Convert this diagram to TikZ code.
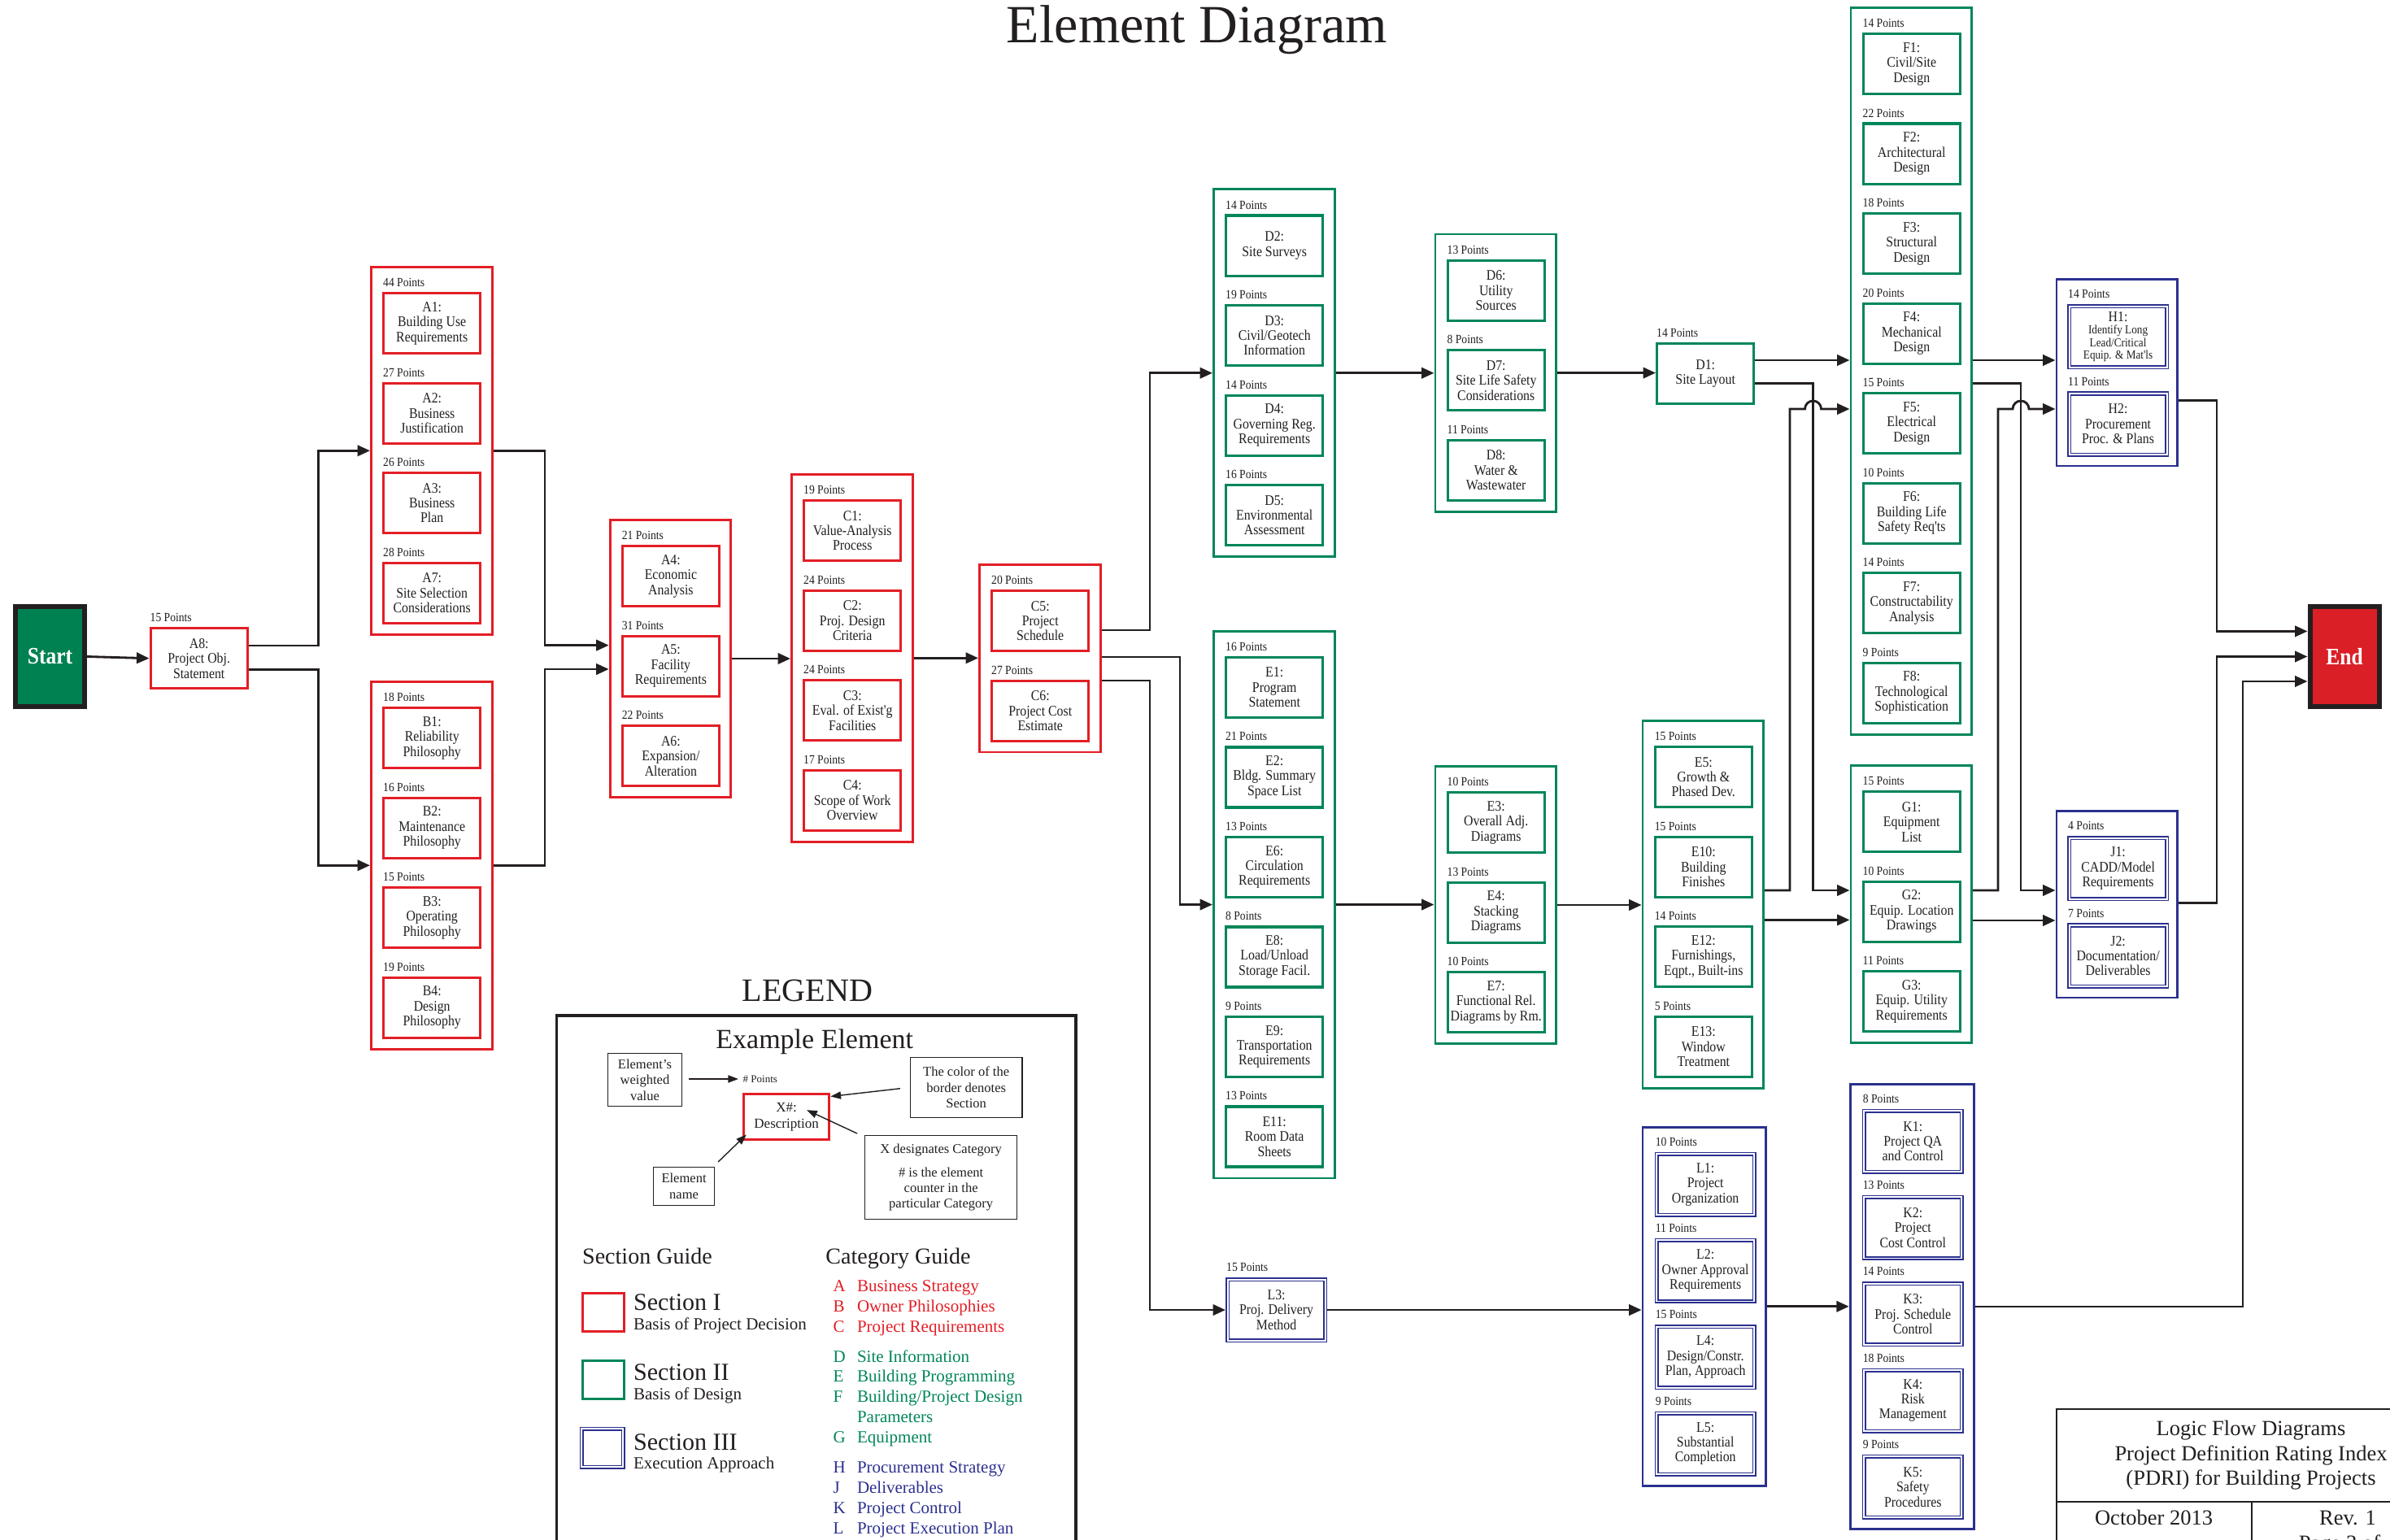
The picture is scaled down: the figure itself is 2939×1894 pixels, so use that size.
\documentclass[tikz,border=0pt]{standalone}
\usepackage{fontspec}
\setmainfont{Liberation Serif}
\newfontfamily\condfont{Liberation Serif}[FakeStretch=0.88]
\usetikzlibrary{arrows.meta}

\definecolor{secred}{RGB}{227,30,38}
\definecolor{secgreen}{RGB}{0,134,88}
\definecolor{secblue}{RGB}{43,48,142}
\definecolor{ink}{RGB}{35,31,32}
\definecolor{startfill}{RGB}{0,129,81}
\definecolor{endfill}{RGB}{219,31,38}

% font sizes (drawing unit: 0.01cm)
\newcommand\fnBox{\condfont\fontsize{5.12}{5.24}\selectfont}
\newcommand\fnSm{\condfont\fontsize{4.27}{4.35}\selectfont}
\newcommand\fnPts{\condfont\fontsize{4.4}{5}\selectfont}
\newcommand\fnSE{\condfont\bfseries\fontsize{8.25}{9}\selectfont}
\newcommand\fnTitle{\fontsize{18.8}{22}\selectfont}
\newcommand\fnNote{\fontsize{4.7}{5.5}\selectfont}
\newcommand\fnHash{\fontsize{3.7}{4.2}\selectfont}
\newcommand\fnEx{\fontsize{4.84}{5.86}\selectfont}
\newcommand\fnLegend{\fontsize{11.4}{13}\selectfont}
\newcommand\fnExample{\fontsize{9.67}{11}\selectfont}
\newcommand\fnGuide{\fontsize{7.97}{9}\selectfont}
\newcommand\fnSecBig{\fontsize{8.54}{9.5}\selectfont}
\newcommand\fnSecSub{\fontsize{5.97}{7}\selectfont}
\newcommand\fnCat{\fontsize{5.97}{7.1}\selectfont}
\newcommand\fnTB{\fontsize{7.54}{8.8}\selectfont}

% group frame: name, left, top, height, colour, width
\newcommand\grp[6]{\node[grp,draw=#5,minimum width=#6,minimum height=#4] (#1) at (#2,#3) {};}
% Section I/II element: name, left, top, points, colour, text
\newcommand\elI[6]{%
  \node[elem,draw=#5] (#1) at (#2,#3) {#6};
  \node[pts] (#1p) at ({#2+0.5},{#3-11.5}) {#4 Points};}
% Section III element: name, left, top, points, text
\newcommand\elIII[5]{%
  \node[elemd] (#1) at (#2,#3) {#5};
  \node[pts] (#1p) at ({#2+0.5},{#3-12.5}) {#4 Points};}
% category guide row: name, baseline, colour, letter, text
\newcommand\catrow[5]{%
  \node[txt,font=\fnCat,text=#3] (#1l) at (1024,#2) {#4};
  \node[txt,font=\fnCat,text=#3] (#1t) at (1053.3,#2) {#5};}

\begin{document}
\begin{tikzpicture}[x=0.01cm,y=-0.01cm,
  grp/.style={line width=0.8pt,anchor=north west,inner sep=0pt},
  elem/.style={line width=0.95pt,anchor=north west,minimum width=1.19cm,minimum height=0.74cm,
    inner sep=0pt,align=center,font=\fnBox,text=ink},
  elemd/.style={draw=secblue,double=white,line width=0.45pt,double distance=0.55pt,
    anchor=north west,minimum width=1.2cm,minimum height=0.75cm,inner sep=0pt,
    align=center,font=\fnBox,text=ink,outer sep=0.72pt},
  pts/.style={anchor=west,inner sep=0pt,font=\fnPts,text=ink},
  conn/.style={draw=ink,line width=0.8pt,-{Triangle[length=4.4pt,width=3.8pt]}},
  note/.style={draw=ink,line width=0.4pt,anchor=north west,inner sep=0pt,align=center,
    font=\fnNote,text=ink},
  lgarrow/.style={draw=ink,line width=0.4pt,-{Triangle[length=3.6pt,width=2.6pt]}},
  txt/.style={anchor=base west,inner sep=0pt,text=ink},
  sebox/.style={draw=ink,line width=1.7pt,minimum width=0.85cm,minimum height=1.23cm,
    inner sep=0pt,text=white,font=\fnSE},
  tbcell/.style={draw=ink,line width=0.6pt,anchor=north west,inner sep=0pt}]

\fill[white] (0,0) rectangle (2939,1894);
\useasboundingbox (0,0) rectangle (2939,1894);

\node[anchor=base,inner sep=0pt,font=\fnTitle,text=ink] (title) at (1472,53) {Element Diagram};

% start / end
\node[sebox,fill=startfill] (startbox) at (61.5,807.5) {Start};
\node[sebox,fill=endfill] (endbox) at (2883,807.5) {End};

% ---------- Section I ----------
\elI{A8}{183.5}{771}{15}{secred}{A8:\\Project Obj.\\Statement}

\grp{gA}{455}{327}{4.515cm}{secred}{1.486cm}
\elI{A1}{470}{359}{44}{secred}{A1:\\Building Use\\Requirements}
\elI{A2}{470}{469.5}{27}{secred}{A2:\\Business\\Justification}
\elI{A3}{470}{580}{26}{secred}{A3:\\Business\\Plan}
\elI{A7}{470}{690.5}{28}{secred}{A7:\\Site Selection\\Considerations}

\grp{gB}{455}{837}{4.515cm}{secred}{1.486cm}
\elI{B1}{470}{869}{18}{secred}{B1:\\Reliability\\Philosophy}
\elI{B2}{470}{979.5}{16}{secred}{B2:\\Maintenance\\Philosophy}
\elI{B3}{470}{1090}{15}{secred}{B3:\\Operating\\Philosophy}
\elI{B4}{470}{1200.5}{19}{secred}{B4:\\Design\\Philosophy}

\grp{gA4}{748.7}{638}{3.41cm}{secred}{1.486cm}
\elI{A4}{763.7}{670}{21}{secred}{A4:\\Economic\\Analysis}
\elI{A5}{763.7}{780.5}{31}{secred}{A5:\\Facility\\Requirements}
\elI{A6}{763.7}{891}{22}{secred}{A6:\\Expansion/\\Alteration}

\grp{gC}{972}{582}{4.515cm}{secred}{1.486cm}
\elI{C1}{987}{614}{19}{secred}{C1:\\Value-Analysis\\Process}
\elI{C2}{987}{724.5}{24}{secred}{C2:\\Proj. Design\\Criteria}
\elI{C3}{987}{835}{24}{secred}{C3:\\Eval. of Exist'g\\Facilities}
\elI{C4}{987}{945.5}{17}{secred}{C4:\\Scope of Work\\Overview}

\grp{gC5}{1203}{693}{2.305cm}{secred}{1.486cm}
\elI{C5}{1218}{725}{20}{secred}{C5:\\Project\\Schedule}
\elI{C6}{1218}{835.5}{27}{secred}{C6:\\Project Cost\\Estimate}

% ---------- Section II ----------
\grp{gD}{1491}{231.5}{4.515cm}{secgreen}{1.486cm}
\elI{D2}{1506}{263.5}{14}{secgreen}{D2:\\Site Surveys}
\elI{D3}{1506}{374}{19}{secgreen}{D3:\\Civil/Geotech\\Information}
\elI{D4}{1506}{484.5}{14}{secgreen}{D4:\\Governing Reg.\\Requirements}
\elI{D5}{1506}{595}{16}{secgreen}{D5:\\Environmental\\Assessment}

\grp{gD6}{1763.5}{286.6}{3.41cm}{secgreen}{1.486cm}
\elI{D6}{1778.5}{318.6}{13}{secgreen}{D6:\\Utility\\Sources}
\elI{D7}{1778.5}{429.1}{8}{secgreen}{D7:\\Site Life Safety\\Considerations}
\elI{D8}{1778.5}{539.6}{11}{secgreen}{D8:\\Water \&\\Wastewater}

\elI{D1}{2036}{420.6}{14}{secgreen}{D1:\\Site Layout}

\grp{gF}{2274.5}{8}{8.935cm}{secgreen}{1.486cm}
\elI{F1}{2289.5}{40}{14}{secgreen}{F1:\\Civil/Site\\Design}
\elI{F2}{2289.5}{150.5}{22}{secgreen}{F2:\\Architectural\\Design}
\elI{F3}{2289.5}{261}{18}{secgreen}{F3:\\Structural\\Design}
\elI{F4}{2289.5}{371.5}{20}{secgreen}{F4:\\Mechanical\\Design}
\elI{F5}{2289.5}{482}{15}{secgreen}{F5:\\Electrical\\Design}
\elI{F6}{2289.5}{592.5}{10}{secgreen}{F6:\\Building Life\\Safety Req'ts}
\elI{F7}{2289.5}{703}{14}{secgreen}{F7:\\Constructability\\Analysis}
\elI{F8}{2289.5}{813.5}{9}{secgreen}{F8:\\Technological\\Sophistication}

\grp{gE}{1491}{774.7}{6.725cm}{secgreen}{1.486cm}
\elI{E1}{1506}{806.7}{16}{secgreen}{E1:\\Program\\Statement}
\elI{E2}{1506}{917.2}{21}{secgreen}{E2:\\Bldg. Summary\\Space List}
\elI{E6}{1506}{1027.7}{13}{secgreen}{E6:\\Circulation\\Requirements}
\elI{E8}{1506}{1138.2}{8}{secgreen}{E8:\\Load/Unload\\Storage Facil.}
\elI{E9}{1506}{1248.7}{9}{secgreen}{E9:\\Transportation\\Requirements}
\elI{E11}{1506}{1359.2}{13}{secgreen}{E11:\\Room Data\\Sheets}

\grp{gE3}{1763.5}{941}{3.41cm}{secgreen}{1.486cm}
\elI{E3}{1778.5}{973}{10}{secgreen}{E3:\\Overall Adj.\\Diagrams}
\elI{E4}{1778.5}{1083.5}{13}{secgreen}{E4:\\Stacking\\Diagrams}
\elI{E7}{1778.5}{1194}{10}{secgreen}{E7:\\Functional Rel.\\Diagrams by Rm.}

\grp{gE5}{2018.6}{885}{4.515cm}{secgreen}{1.486cm}
\elI{E5}{2033.6}{917}{15}{secgreen}{E5:\\Growth \&\\Phased Dev.}
\elI{E10}{2033.6}{1027.5}{15}{secgreen}{E10:\\Building\\Finishes}
\elI{E12}{2033.6}{1138}{14}{secgreen}{E12:\\Furnishings,\\Eqpt., Built-ins}
\elI{E13}{2033.6}{1248.5}{5}{secgreen}{E13:\\Window\\Treatment}

\grp{gG}{2274.5}{940}{3.41cm}{secgreen}{1.486cm}
\elI{G1}{2289.5}{972}{15}{secgreen}{G1:\\Equipment\\List}
\elI{G2}{2289.5}{1082.5}{10}{secgreen}{G2:\\Equip. Location\\Drawings}
\elI{G3}{2289.5}{1193}{11}{secgreen}{G3:\\Equip. Utility\\Requirements}

% ---------- Section III ----------
\grp{gH}{2527.5}{342.4}{2.29cm}{secblue}{1.485cm}
\node[elemd,font=\fnSm] (H1) at (2542,374) {{\fnBox H1:}\\Identify Long\\Lead/Critical\\Equip. \& Mat'ls};
\node[pts] (H1p) at (2542.5,361.5) {14 Points};
\elIII{H2}{2542}{481.5}{11}{H2:\\Procurement\\Proc. \& Plans}

\grp{gJ}{2527.5}{996.4}{2.29cm}{secblue}{1.485cm}
\elIII{J1}{2542}{1028}{4}{J1:\\CADD/Model\\Requirements}
\elIII{J2}{2542}{1135.5}{7}{J2:\\Documentation/\\Deliverables}

\elIII{L3}{1507}{1571}{15}{L3:\\Proj. Delivery\\Method}

\grp{gL}{2018.6}{1385}{4.405cm}{secblue}{1.51cm}
\elIII{L1}{2034.6}{1416.6}{10}{L1:\\Project\\Organization}
\elIII{L2}{2034.6}{1522.9}{11}{L2:\\Owner Approval\\Requirements}
\elIII{L4}{2034.6}{1629.2}{15}{L4:\\Design/Constr.\\Plan, Approach}
\elIII{L5}{2034.6}{1735.5}{9}{L5:\\Substantial\\Completion}

\grp{gK}{2273.7}{1332}{5.468cm}{secblue}{1.52cm}
\elIII{K1}{2289.7}{1363.6}{8}{K1:\\Project QA\\and Control}
\elIII{K2}{2289.7}{1469.9}{13}{K2:\\Project\\Cost Control}
\elIII{K3}{2289.7}{1576.2}{14}{K3:\\Proj. Schedule\\Control}
\elIII{K4}{2289.7}{1682.5}{18}{K4:\\Risk\\Management}
\elIII{K5}{2289.7}{1788.8}{9}{K5:\\Safety\\Procedures}

% ---------- connectors ----------
\draw[conn] (startbox.east) -- (A8.west);
\draw[conn] (A8.east |- 0,794) -- (391.5,794) |- (gA.west);
\draw[conn] (A8.east |- 0,823.6) -- (391.5,823.6) |- (gB.west);
\draw[conn] (gA.east) -| (670,793.6) -- (gA4.west |- 0,793.6);
\draw[conn] (gB.east) -| (670,823) -- (gA4.west |- 0,823);
\draw[conn] (gA4.east) -- (gA4.east -| gC.west);
\draw[conn] (gC.east) -- (gC.east -| gC5.west);
\draw[conn] (gC5.east |- 0,775) -- (1414,775) |- (gD.west);
\draw[conn] (gC5.east |- 0,808) -- (1451,808) |- (gE.west);
\draw[conn] (gC5.east |- 0,837) -- (1414,837) |- (L3.west);
\draw[conn] (gD.east) -- (gD.east -| gD6.west);
\draw[conn] (gD6.east) -- (gD6.east -| D1.west);
\draw[conn] (D1.east |- 0,443) -- (gF.west |- 0,443);
\draw[conn] (D1.east |- 0,471.7) -- (2229.5,471.7) |- (gG.west |- 0,1095);
\draw[conn] (gE5.east |- 0,1095) -- (2201,1095) -- (2201,503) -- (2219.5,503)
  arc[start angle=180,end angle=0,radius=0.1cm] -- (gF.west |- 0,503);
\draw[conn] (gE5.east |- 0,1131.4) -- (gG.west |- 0,1131.4);
\draw[conn] (gE.east) -- (gE.east -| gE3.west);
\draw[conn] (gE3.east) -- (gE3.east -| gE5.west);
\draw[conn] (gF.east |- 0,443) -- (gH.west |- 0,443);
\draw[conn] (gF.east |- 0,471.7) -- (2485,471.7) |- (gJ.west |- 0,1095);
\draw[conn] (gG.east |- 0,1095) -- (2457,1095) -- (2457,503) -- (2475,503)
  arc[start angle=180,end angle=0,radius=0.1cm] -- (gH.west |- 0,503);
\draw[conn] (gG.east |- 0,1132) -- (gJ.west |- 0,1132);
\draw[conn] (gH.east |- 0,492.3) -- (2726,492.3) |- (endbox.west |- 0,776.4);
\draw[conn] (gJ.east |- 0,1110.7) -- (2726,1110.7) |- (endbox.west);
\draw[conn] (L3.east) -- (L3.east -| gL.west);
\draw[conn] (gL.east) -- (gL.east -| gK.west);
\draw[conn] (gK.east) -| (2758,838) -- (endbox.west |- 0,838);

% ---------- legend ----------
\node[anchor=base,inner sep=0pt,font=\fnLegend,text=ink] (legtitle) at (993,1231.5) {LEGEND};
\node[draw=ink,line width=1pt,anchor=north west,minimum width=6.385cm,minimum height=7.2cm] (legbox) at (682.5,1247.4) {};
\node[anchor=base,inner sep=0pt,font=\fnExample,text=ink] (extitle) at (1001.7,1289.3) {Example Element};

\node[note,minimum width=0.911cm,minimum height=0.652cm] (nw) at (746.7,1294.8) {Element's\\weighted\\value};
\node[anchor=west,inner sep=0pt,font=\fnHash,text=ink] (exp) at (913,1327) {\# Points};
\node[draw=secred,line width=0.95pt,anchor=north west,minimum width=1.052cm,minimum height=0.56cm,
  inner sep=0pt,align=center,font=\fnEx,text=ink] (ex) at (912.8,1344) {X\#:\\Description};
\node[note,minimum width=1.372cm,minimum height=0.737cm] (nc) at (1118.8,1299.8) {The color of the\\border denotes\\Section};
\node[note,minimum width=1.868cm,minimum height=1.028cm] (nx) at (1063,1396)
  {X designates Category\\[2.6pt]\# is the element\\counter in the\\particular Category};
\node[note,minimum width=0.747cm,minimum height=0.465cm] (nn) at (803,1435) {Element\\name};

\draw[lgarrow,shorten <=0.08cm,shorten >=0.05cm] (nw.east |- exp.west) -- (exp.west);
\draw[lgarrow,shorten <=0.12cm] (nc.west) -- ([yshift=-0.045cm]ex.north east);
\draw[lgarrow] ([shift={(-0.09cm,0.02cm)}]nx.north west) -- ([shift={(0.25cm,0.085cm)}]ex.center);
\draw[lgarrow] ([shift={(0.04cm,0.06cm)}]nn.north east) -- ([shift={(0.05cm,0.08cm)}]ex.south west);

% section guide
\node[txt,font=\fnGuide] (sg) at (715.5,1554.3) {Section Guide};
\node[draw=secred,line width=0.95pt,anchor=north west,minimum width=0.51cm,minimum height=0.47cm] (sq1) at (715,1588.5) {};
\node[txt,font=\fnSecBig] (s1) at (778.4,1611.7) {Section I};
\node[txt,font=\fnSecSub] (s1b) at (778.4,1635.4) {Basis of Project Decision};
\node[draw=secgreen,line width=0.95pt,anchor=north west,minimum width=0.51cm,minimum height=0.47cm] (sq2) at (715,1671.5) {};
\node[txt,font=\fnSecBig] (s2) at (778.4,1697.8) {Section II};
\node[txt,font=\fnSecSub] (s2b) at (778.4,1721) {Basis of Design};
\node[draw=secblue,double=white,line width=0.45pt,double distance=0.55pt,anchor=north west,
  minimum width=0.51cm,minimum height=0.47cm] (sq3) at (714.5,1756.5) {};
\node[txt,font=\fnSecBig] (s3) at (778.4,1783.4) {Section III};
\node[txt,font=\fnSecSub] (s3b) at (778.4,1806) {Execution Approach};

% category guide
\node[txt,font=\fnGuide] (cg) at (1014.7,1554.3) {Category Guide};
\catrow{catA}{1588.5}{secred}{A}{Business Strategy}
\catrow{catB}{1613.4}{secred}{B}{Owner Philosophies}
\catrow{catC}{1638.3}{secred}{C}{Project Requirements}
\catrow{catD}{1675}{secgreen}{D}{Site Information}
\catrow{catE}{1699.9}{secgreen}{E}{Building Programming}
\catrow{catF}{1724.8}{secgreen}{F}{Building/Project Design}
\node[txt,font=\fnCat,text=secgreen] (catFp) at (1053.3,1749.7) {Parameters};
\catrow{catG}{1774.6}{secgreen}{G}{Equipment}
\catrow{catH}{1811.6}{secblue}{H}{Procurement Strategy}
\catrow{catJ}{1836.4}{secblue}{J}{Deliverables}
\catrow{catK}{1861.2}{secblue}{K}{Project Control}
\catrow{catL}{1886}{secblue}{L}{Project Execution Plan}

% ---------- title block ----------
\node[tbcell,minimum width=4.806cm,minimum height=1.137cm] (tbhead) at (2527.7,1731.8) {};
\node[tbcell,minimum width=2.4cm,minimum height=1.2cm] (tbdate) at (2527.7,1845.5) {};
\node[tbcell,minimum width=2.4cm,minimum height=1.2cm] (tbrev) at (2767.7,1845.5) {};
\node[anchor=base,inner sep=0pt,font=\fnTB,text=ink] (tb1) at (2768,1765) {Logic Flow Diagrams};
\node[anchor=base,inner sep=0pt,font=\fnTB,text=ink] (tb2) at (2768,1796) {Project Definition Rating Index};
\node[anchor=base,inner sep=0pt,font=\fnTB,text=ink] (tb3) at (2768,1826.5) {(PDRI) for Building Projects};
\node[anchor=base,inner sep=0pt,font=\fnTB,text=ink] (tb4) at (2648.6,1875) {October 2013};
\node[anchor=base,inner sep=0pt,font=\fnTB,text=ink] (tb5) at (2887,1875) {Rev. 1};
\node[anchor=base,inner sep=0pt,font=\fnTB,text=ink] (tb6) at (2877,1906.5) {Page 3 of};

\end{tikzpicture}
\end{document}
